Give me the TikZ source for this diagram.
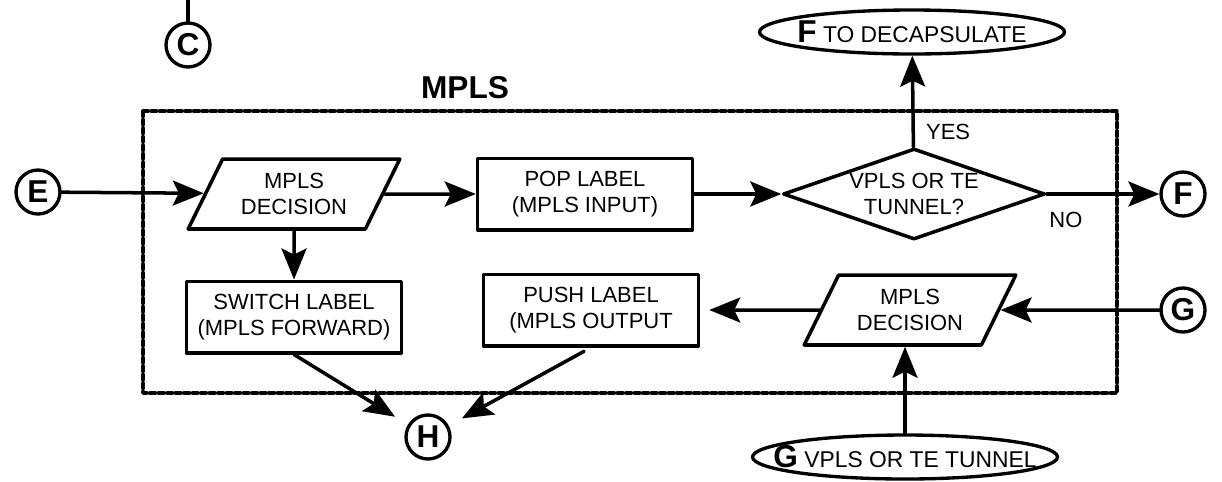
\documentclass[tikz,border=0pt]{standalone}
\usepackage{fontspec}
\setmainfont{Liberation Sans}
\usetikzlibrary{arrows.meta,shapes.geometric}

\begin{document}
\begin{tikzpicture}[line cap=round,line join=round,x=0.02cm,y=-0.02cm,
	>={Stealth[length=0.62cm,width=0.5cm,inset=0.12cm]},
	txt/.style={font=\fontsize{12.5}{14.5}\selectfont,align=center},
	procbox/.style={txt,draw,line width=2pt,rectangle,minimum width=4.3cm,minimum height=1.43cm,inner sep=0pt},
	decide/.style={txt,draw,line width=2pt,trapezium,trapezium left angle=58,trapezium right angle=122,trapezium stretches=true,minimum width=4.26cm,minimum height=1.4cm,inner sep=0pt},
	ask/.style={txt,draw,line width=2pt,diamond,aspect=2.88,minimum width=5.24cm,minimum height=1.82cm,inner sep=0pt},
	term/.style={draw,line width=1.9pt,ellipse,minimum width=6.1cm,minimum height=0.88cm,inner ysep=0pt,inner xsep=-1.5cm,font=\fontsize{13}{13}\selectfont},
	conn/.style={draw,line width=1.9pt,circle,minimum size=0.88cm,inner sep=0pt,font=\fontsize{18}{18}\selectfont\bfseries},
	flow/.style={->,line width=2pt},
	groupbox/.style={line width=2pt,dash pattern=on 0.11cm off 0.06cm}]
	\useasboundingbox (0,0) rectangle (1222,481);
	\coordinate (Ctop) at (188,0);
	\node[conn] (C) at (188,45) {C};
	\node[font=\fontsize{18}{18}\selectfont\bfseries] (title) at (465,88) {MPLS};
	\draw[groupbox] (143,111) rectangle (1117,393);
	\node[conn] (E) at (38,192) {E};
	\node[decide] (dec1) at (294,194) {MPLS\\DECISION};
	\node[procbox] (pop) at (585,194) {POP LABEL\\(MPLS INPUT)};
	\node[ask] (tun) at (914,194) {VPLS OR TE\\TUNNEL?};
	\node[conn] (F) at (1183,194) {F};
	\node[term] (Fdec) at (912,32) {{\fontsize{18}{18}\selectfont\bfseries F} TO DECAPSULATE};
	\node[procbox] (sw) at (294,317) {SWITCH LABEL\\(MPLS FORWARD)};
	\node[procbox] (push) at (591,310) {PUSH LABEL\\(MPLS OUTPUT};
	\node[decide] (dec2) at (910,310) {MPLS\\DECISION};
	\node[conn] (G) at (1183,310) {G};
	\node[term] (Gtun) at (905,457) {{\fontsize{18}{18}\selectfont\bfseries G} VPLS OR TE TUNNEL};
	\node[conn] (H) at (428,437) {H};
	\draw[line width=2pt] (Ctop) -- (C);
	\draw[flow] (E) -- (dec1);
	\draw[flow] (dec1) -- (pop);
	\draw[flow] (pop) -- (tun);
	\draw[flow] (tun) -- node[txt,pos=0.17,below=6pt] {NO} (F);
	\draw[flow] (tun) -- node[txt,pos=0.17,right=3pt] {YES} (Fdec);
	\draw[flow] (dec1) -- (sw);
	\draw[flow,shorten >=0.3cm] (sw.south) -- (H);
	\draw[flow,shorten <=0.16cm,shorten >=0.3cm] (push.south) -- (H);
	\draw[flow,shorten >=0.18cm] (dec2) -- (push);
	\draw[flow] (G) -- (dec2);
	\draw[flow] (Gtun.north) -- (Gtun.north |- dec2.south);
\end{tikzpicture}
\end{document}
